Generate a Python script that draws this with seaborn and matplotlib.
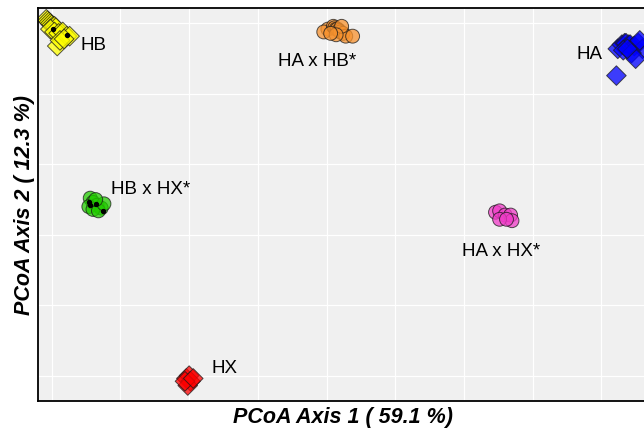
import matplotlib
matplotlib.use("Agg")
import matplotlib.pyplot as plt
import seaborn as sns
import pandas as pd
import numpy as np

# PCoA coordinates, per group
hb_x = [-0.154, -0.153, -0.152, -0.151, -0.150, -0.149, -0.148, -0.147, -0.151, -0.148,
        -0.145, -0.142, -0.139, -0.137, -0.146, -0.144, -0.141]
hb_y = [0.153, 0.152, 0.151, 0.150, 0.149, 0.148, 0.148, 0.147, 0.146, 0.144,
        0.143, 0.144, 0.141, 0.141, 0.134, 0.138, 0.139]
hahb_x = [0.051, 0.048, 0.055, 0.056, 0.057, 0.058, 0.059, 0.060, 0.062, 0.064, 0.069, 0.061, 0.057, 0.053]
hahb_y = [0.146, 0.144, 0.148, 0.147, 0.146, 0.146, 0.145, 0.144, 0.143, 0.141, 0.141, 0.148, 0.142, 0.143]
ha_x = [0.262, 0.265, 0.267, 0.268, 0.270, 0.271, 0.274, 0.277, 0.280, 0.266, 0.272, 0.275, 0.269, 0.278, 0.261]
ha_y = [0.132, 0.135, 0.136, 0.136, 0.135, 0.135, 0.134, 0.136, 0.132, 0.131, 0.129, 0.125, 0.132, 0.138, 0.113]
hbhx_x = [-0.122, -0.120, -0.117, -0.114, -0.123, -0.120, -0.116, -0.112, -0.118]
hbhx_y = [0.026, 0.023, 0.021, 0.019, 0.020, 0.018, 0.017, 0.022, 0.025]
hahx_x = [0.173, 0.176, 0.180, 0.184, 0.185, 0.176, 0.181]
hahx_y = [0.016, 0.017, 0.014, 0.014, 0.010, 0.011, 0.011]
hx_x = [-0.052, -0.050, -0.049, -0.051, -0.053, -0.047]
hx_y = [-0.102, -0.100, -0.104, -0.107, -0.104, -0.102]

# small black dots seen inside a few markers
dot_x = [-0.149, -0.139, -0.122, -0.118, -0.113, -0.123]
dot_y = [0.146, 0.142, 0.021, 0.022, 0.017, 0.023]

groups = ["HB", "HA x HB*", "HA", "HB x HX*", "HA x HX*", "HX"]
colors = ["#FFFF00", "#F7922E", "#0000FF", "#22CC00", "#F03CC8", "#FF0000"]
markers = ["D", "o", "D", "o", "o", "D"]

# label anchor points (data units)
lab_x = [-0.129, 0.043, 0.232, -0.107, 0.177, -0.034]
lab_y = [0.135, 0.124, 0.129, 0.033, -0.011, -0.094]
lab_ha = ["left", "center", "left", "left", "center", "left"]

xs = [hb_x, hahb_x, ha_x, hbhx_x, hahx_x, hx_x]
ys = [hb_y, hahb_y, ha_y, hbhx_y, hahx_y, hx_y]
df = pd.concat([pd.DataFrame({"x": x, "y": y, "group": g}) for g, x, y in zip(groups, xs, ys)])

sns.set_style("darkgrid", {"axes.facecolor": "#F0F0F0", "grid.color": "white"})
plt.rcParams["font.family"] = ["Liberation Sans", "DejaVu Sans"]

fig = plt.figure(figsize=(6.44, 4.31), dpi=100)
ax = fig.add_axes([38 / 644, 1 - 402 / 431, 610 / 644, 393 / 431])

sns.scatterplot(data=df, x="x", y="y", hue="group", style="group",
                palette=dict(zip(groups, colors)), markers=dict(zip(groups, markers)),
                s=100, alpha=0.75, edgecolor="#1a1a1a", linewidth=0.7, legend=False, ax=ax)
ax.scatter(dot_x, dot_y, s=8, color="black", zorder=5)

for g, x, y, ha in zip(groups, lab_x, lab_y, lab_ha):
    ax.text(x, y, g, ha=ha, va="center", fontsize=13.5, color="black")

ax.set_xlim(-0.16, 0.284)
ax.set_ylim(-0.118, 0.161)
ax.set_xticks(np.arange(-0.15, 0.28, 0.05))
ax.set_yticks(np.arange(-0.10, 0.16, 0.05))
ax.set_xticklabels([])
ax.set_yticklabels([])
ax.tick_params(length=0)
ax.grid(True, color="white", linewidth=0.9)
for side in ["left", "top", "bottom"]:
    ax.spines[side].set_visible(True)
    ax.spines[side].set_color("black")
    ax.spines[side].set_linewidth(1.3)
ax.spines["right"].set_visible(False)

ax.set_xlabel("PCoA Axis 1 ( 59.1 %)", fontsize=15.5, fontweight="bold", style="italic",
              color="black", labelpad=0)
ax.set_ylabel("PCoA Axis 2 ( 12.3 %)", fontsize=15.5, fontweight="bold", style="italic",
              color="black", labelpad=-1)

fig.savefig("out.png", dpi=100)
